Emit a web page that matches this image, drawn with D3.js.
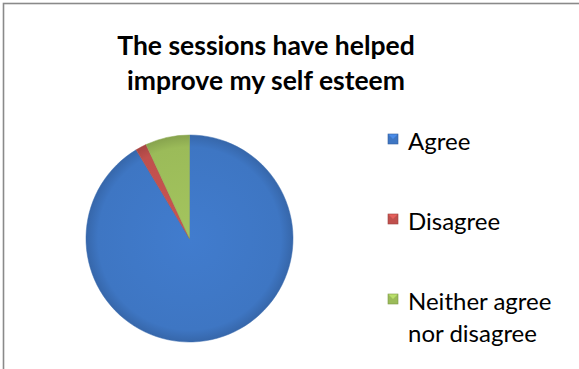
<!DOCTYPE html>
<html>
<head>
<meta charset="utf-8">
<script src="https://cdn.jsdelivr.net/npm/d3@7"></script>
<style>
  html, body { margin: 0; padding: 0; background: #fff; }
  svg { display: block; }
  text { font-family: Lato, "Open Sans", sans-serif; fill: #000; }
</style>
</head>
<body>
<svg id="chart" width="579" height="369"></svg>
<script>
const categories = ["Agree", "Disagree", "Neither agree nor disagree"];
const values = [53, 1, 4];
const colors = ["#3E76C3", "#C0504D", "#9BBB59"];
const legendLines = [["Agree"], ["Disagree"], ["Neither agree", "nor disagree"]];
const titleLines = ["The sessions have helped", "improve my self esteem"];

const svg = d3.select("#chart");
const W = 579, H = 369;

// border
svg.append("rect").attr("x", 3.5).attr("y", 3.5).attr("width", W + 10).attr("height", H + 10)
  .attr("fill", "#fff").attr("stroke", "#8a8a8a").attr("stroke-width", 1.6);

// title
svg.append("g").selectAll("text").data(titleLines).join("text")
  .attr("x", 266).attr("y", (d, i) => 55 + i * 35)
  .attr("text-anchor", "middle")
  .attr("font-weight", "bold")
  .attr("font-size", 26.5)
  .text(d => d);

// defs for gradients
const defs = svg.append("defs");
colors.forEach((c, i) => {
  const g = defs.append("radialGradient").attr("id", "grad" + i)
    .attr("gradientUnits", "userSpaceOnUse")
    .attr("cx", 0).attr("cy", 0).attr("r", 104);
  const base = d3.color(c);
  g.append("stop").attr("offset", "0%").attr("stop-color", base.brighter(0.15));
  g.append("stop").attr("offset", "88%").attr("stop-color", base);
  g.append("stop").attr("offset", "100%").attr("stop-color", base.darker(0.4));
});

const data = categories.map((c, i) => ({ name: c, value: values[i], color: colors[i], idx: i }));
const pie = d3.pie().value(d => d.value).sort(null);
const arc = d3.arc().innerRadius(0).outerRadius(103.5);
const cx = 189.5, cy = 238.5;
const gPie = svg.append("g").attr("transform", `translate(${cx},${cy})`);
gPie.selectAll("path").data(pie(data)).join("path")
  .attr("d", arc)
  .attr("fill", d => `url(#grad${d.data.idx})`)
  .attr("stroke", d => d3.color(d.data.color).darker(0.3))
  .attr("stroke-width", 0.5);

// legend
const legendY = [150, 230, 310];
const lg = svg.append("g");
const items = lg.selectAll("g").data(data).join("g")
  .attr("transform", (d, i) => `translate(388, ${legendY[i]})`);
items.append("rect").attr("x", 0).attr("y", -16).attr("width", 10).attr("height", 10)
  .attr("fill", d => d.color);
items.append("path").attr("d", "M0,-16 L10,-16 L5,-11 Z")
  .attr("fill", d => d3.color(d.color).brighter(0.6)).attr("opacity", 0.8);
items.append("rect").attr("x", 0).attr("y", -16).attr("width", 10).attr("height", 10)
  .attr("fill", "none").attr("stroke", d => d3.color(d.color).darker(0.6)).attr("stroke-width", 0.6);
items.each(function(d, i) {
  d3.select(this).selectAll("text").data(legendLines[i]).join("text")
    .attr("x", 20).attr("y", (t, j) => j * 32)
    .attr("font-size", 24)
    .text(t => t);
});
</script>
</body>
</html>
